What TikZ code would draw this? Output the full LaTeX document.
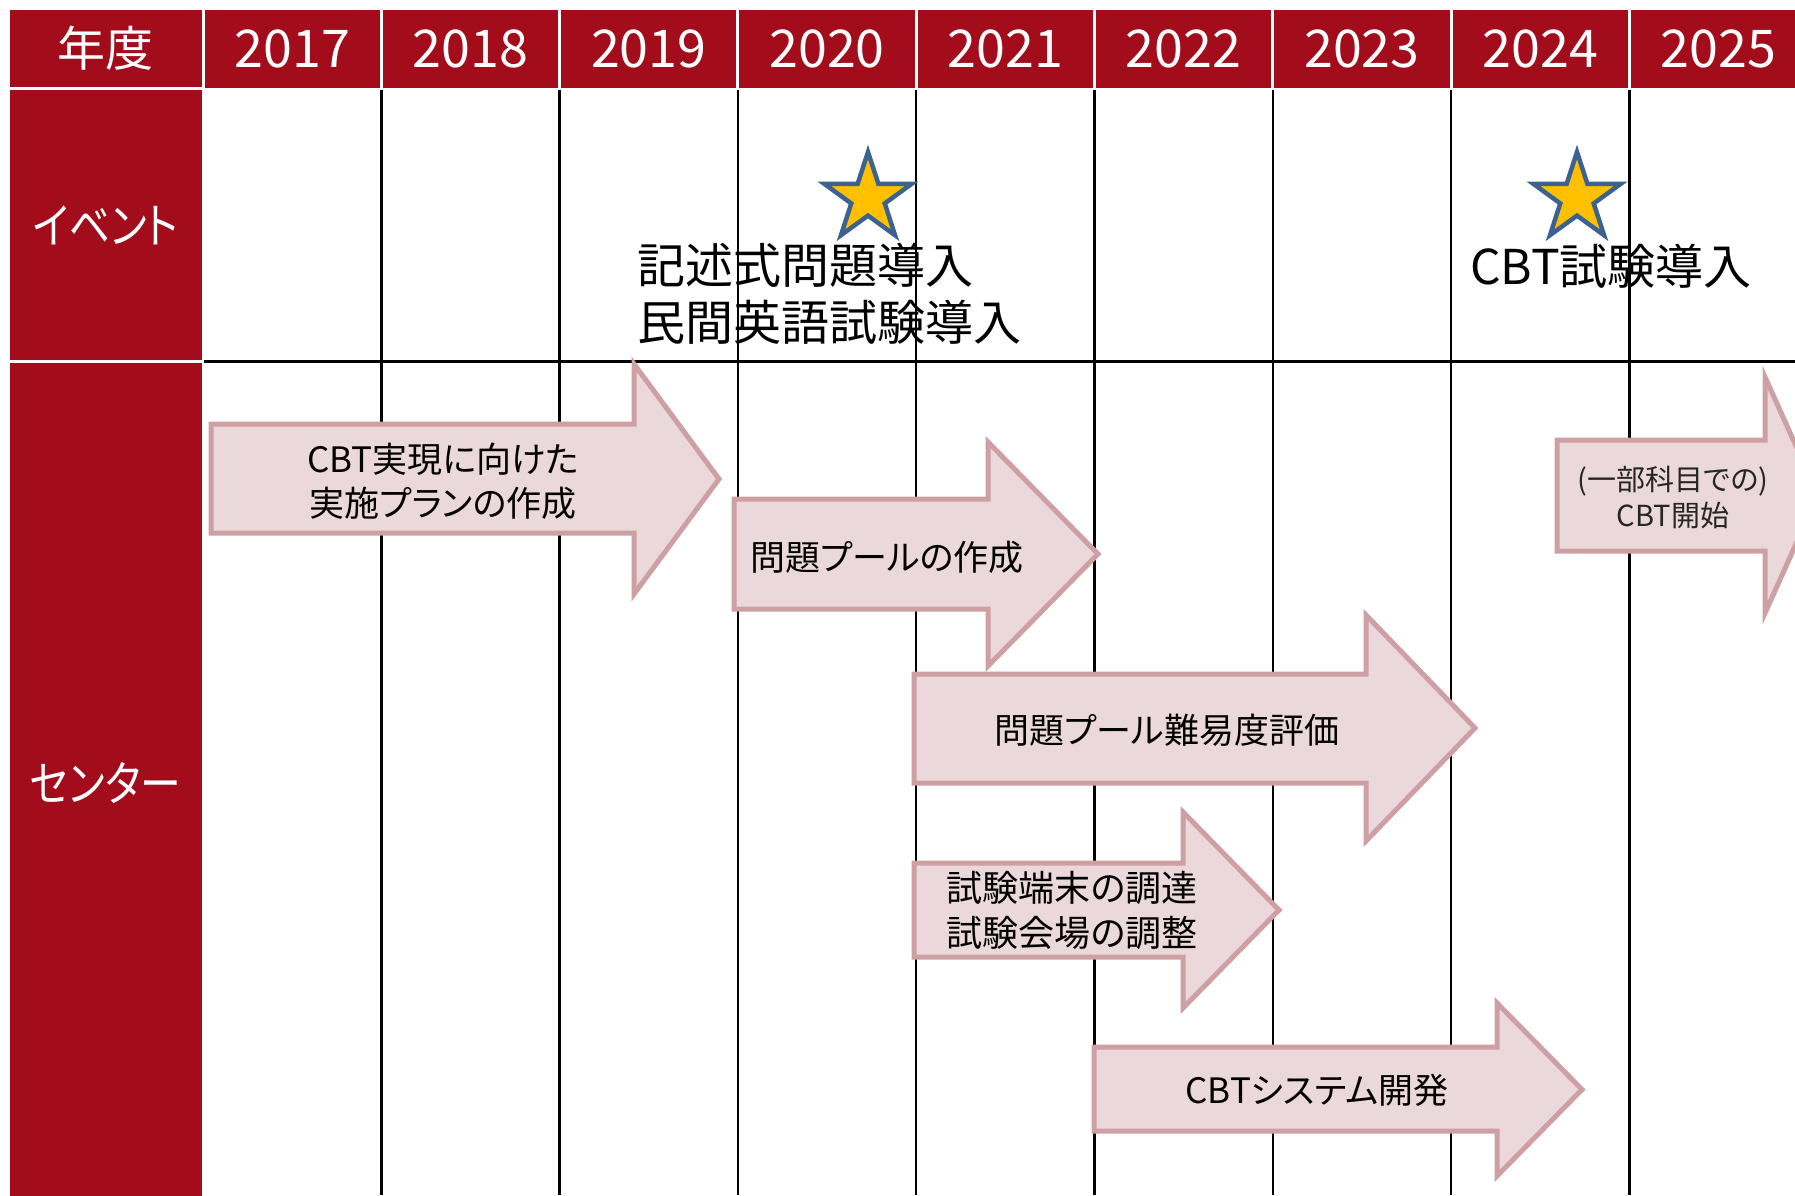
\documentclass[tikz,border=0pt]{standalone}
\usepackage{fontspec}
\setmainfont{Noto Sans CJK JP}[RawFeature=+palt]
\newfontfamily\narrowjp{Noto Sans CJK JP}[RawFeature=+palt, FakeStretch=0.85]

\definecolor{hdr}{RGB}{162,12,27}
\definecolor{afill}{RGB}{234,216,218}
\definecolor{aline}{RGB}{207,160,163}
\definecolor{starfill}{RGB}{255,192,0}
\definecolor{starline}{RGB}{60,98,146}
\definecolor{dtext}{RGB}{38,38,38}

\newcommand\tlarrow[7]{\draw[arrowbox] (#1,#2) -- (#4,#2) -- (#4,#5) -- (#7,{(#5+#6)/2}) -- (#4,#6) -- (#4,#3) -- (#1,#3) -- cycle;}
\newcommand\tlstar[2]{\begin{scope}[shift={(#1,#2)}]
\draw[starst] (-90:46) -- (-54:17.6) -- (-18:46) -- (18:17.6) -- (54:46) -- (90:17.6) -- (126:46) -- (162:17.6) -- (198:46) -- (234:17.6) -- cycle;
\end{scope}}

\tikzset{
  hcell/.style={rectangle, fill=hdr, draw=white, line width=3pt, text=white, inner sep=0pt, font=\fontsize{52}{60}\selectfont},
  gridln/.style={draw=black, line width=2.5pt},
  arrowbox/.style={fill=afill, draw=aline, line width=5pt, line join=miter},
  atext/.style={inner sep=0pt, align=center, font=\fontsize{35}{44}\selectfont},
  evtext/.style={inner sep=0pt, align=left, anchor=west, font=\fontsize{48}{57}\selectfont},
  starst/.style={fill=starfill, draw=starline, line width=4.5pt, line join=miter},
}

\begin{document}
\begin{tikzpicture}[x=1pt,y=-1pt]
\useasboundingbox (0,0) rectangle (1795,1195);
\clip (0,0) rectangle (1795,1195);

% header
\node[hcell, font=\fontsize{48}{58}\selectfont, minimum width=195.5pt, minimum height=81pt] (hyear) at (105.75,48.5) {年度};
\foreach \i/\yr in {0/2017,1/2018,2/2019,3/2020,4/2021,5/2022,6/2023,7/2024,8/2025} {
  \node[hcell, minimum width=178.3pt, minimum height=81pt] (h\yr) at ({203+178.3*(\i+0.5)},48.5) {\yr};
}
% left column
\node[hcell, font=\narrowjp\fontsize{48}{58}\selectfont, minimum width=195.5pt, minimum height=273pt] (lev) at (105.75,225) {イベント};
\node[hcell, font=\narrowjp\fontsize{48}{58}\selectfont, minimum width=195.5pt, minimum height=843.5pt] (lctr) at (105.75,783.25) {センター};

% grid
\foreach \x in {381.3,559.6,737.9,916.2,1094.5,1272.8,1451.1,1629.4}
  \draw[gridln] (\x,89.5) -- (\x,1195);
\draw[line width=3pt] (203.5,361.5) -- (1795,361.5);

% arrows
\tlarrow{211}{424}{533}{634}{364}{594}{719}
\tlarrow{734}{499}{609}{988}{442}{666}{1098}
\tlarrow{914}{674}{783}{1366}{615}{841}{1475}
\tlarrow{914}{863}{957}{1183}{812}{1008}{1279}
\tlarrow{1094}{1047}{1131}{1497}{1003}{1176}{1582}
\tlarrow{1557}{440}{551}{1765}{377}{613}{1818}

\node[atext] (t1) at (443,481) {CBT実現に向けた\\実施プランの作成};
\node[atext] (t2) at (887,557) {問題プールの作成};
\node[atext] (t3) at (1167,730) {問題プール難易度評価};
\node[atext, font=\fontsize{36}{45}\selectfont] (t4) at (1072,910.5) {試験端末の調達\\試験会場の調整};
\node[atext] (t5) at (1317,1090) {CBTシステム開発};
\node[atext, text=dtext, font=\fontsize{29}{36}\selectfont] (t6) at (1673,497) {(一部科目での)\\CBT開始};

% stars
\tlstar{868}{198}
\tlstar{1577}{198}

% events
\node[evtext] (ev1) at (637,293.5) {記述式問題導入\\民間英語試験導入};
\node[evtext] (ev2) at (1470,266) {CBT試験導入};
\end{tikzpicture}
\end{document}
